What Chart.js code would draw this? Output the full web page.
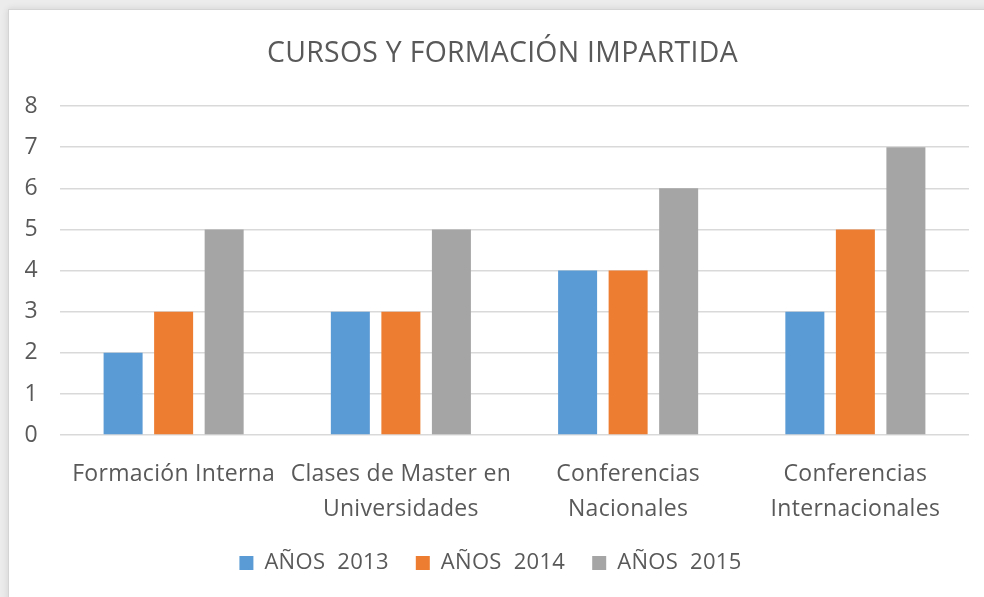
<!DOCTYPE html>
<html>
<head>
<meta charset="utf-8">
<script src="https://cdn.jsdelivr.net/npm/chart.js@4/dist/chart.umd.min.js"></script>
<style>
  html, body { margin: 0; padding: 0; background: #ececec; width: 984px; height: 597px; overflow: hidden; }
  #frame { position: absolute; left: 8px; top: 9px; width: 1000px; height: 620px; background: #fff; border: 1px solid #d4d4d4; box-shadow: 0 0 7px rgba(0,0,0,0.12); }
  #wrap { position: absolute; left: 0; top: 0; width: 984px; height: 597px; }
</style>
</head>
<body>
<div id="frame"></div>
<div id="wrap"><canvas id="c" width="984" height="597"></canvas></div>
<script>
const titleText = 'CURSOS Y FORMACIÓN IMPARTIDA';
const categories = [
  ['Formación Interna'],
  ['Clases de Master en', 'Universidades'],
  ['Conferencias', 'Nacionales'],
  ['Conferencias', 'Internacionales']
];
const seriesNames = ['AÑOS  2013', 'AÑOS  2014', 'AÑOS  2015'];
const values2013 = [2, 3, 4, 3];
const values2014 = [3, 3, 4, 5];
const values2015 = [5, 5, 6, 7];
const yTicks = [0, 1, 2, 3, 4, 5, 6, 7, 8];
const colors = ['#5B9BD5', '#ED7D31', '#A5A5A5'];

const textColor = '#595959';
const fontFamily = '"Open Sans", sans-serif';

Chart.defaults.font.family = fontFamily;
Chart.defaults.color = textColor;

const seriesValues = [values2013, values2014, values2015];

const spacingPlugin = {
  id: 'spacing',
  beforeUpdate(chart) { chart.ctx.letterSpacing = '0.3px'; },
  beforeLayout(chart) { chart.ctx.letterSpacing = '0.3px'; },
  afterLayout(chart) {
    // the original chart frame is wider than the visible crop: centre title and legend on it
    if (chart.titleBlock) { chart.titleBlock.left += 36; }
    if (chart.legend) { chart.legend.left += 6; chart.legend.right += 6; }
  },
  beforeDraw(chart) { chart.ctx.letterSpacing = '0.3px'; }
};

new Chart(document.getElementById('c'), {
  type: 'bar',
  plugins: [spacingPlugin],
  data: {
    labels: categories,
    datasets: seriesNames.map((name, i) => ({
      label: name,
      data: seriesValues[i],
      backgroundColor: colors[i],
      borderWidth: 0,
      categoryPercentage: 0.667,
      barPercentage: 0.772
    }))
  },
  options: {
    responsive: false,
    animation: false,
    devicePixelRatio: 1,
    layout: { padding: { left: 0, right: 15, top: 30, bottom: 13 } },
    plugins: {
      title: {
        display: true,
        text: titleText,
        font: { size: 28.4, weight: 'normal' },
        color: textColor,
        padding: { top: 7, bottom: 35 }
      },
      legend: {
        position: 'bottom',
        labels: {
          boxWidth: 14,
          boxHeight: 14,
          font: { size: 22 },
          color: textColor,
          padding: 27
        }
      },
      tooltip: { enabled: false }
    },
    scales: {
      x: {
        grid: { display: false },
        border: { display: false },
        afterFit: (s) => { s.paddingLeft = 0; s.paddingRight = 0; s.height -= 16; },
        ticks: {
          font: { size: 23, lineHeight: 1.52 },
          color: textColor,
          padding: 14,
          maxRotation: 0,
          autoSkip: false
        }
      },
      y: {
        min: 0,
        max: 8,
        afterBuildTicks: (axis) => { axis.ticks = yTicks.map(v => ({ value: v })); },
        afterFit: (s) => { s.width = 60; },
        grid: { color: '#D9D9D9', lineWidth: 1.5, drawTicks: false },
        border: { display: false },
        ticks: {
          font: { size: 23 },
          color: textColor,
          padding: 22
        }
      }
    }
  }
});
</script>
</body>
</html>
